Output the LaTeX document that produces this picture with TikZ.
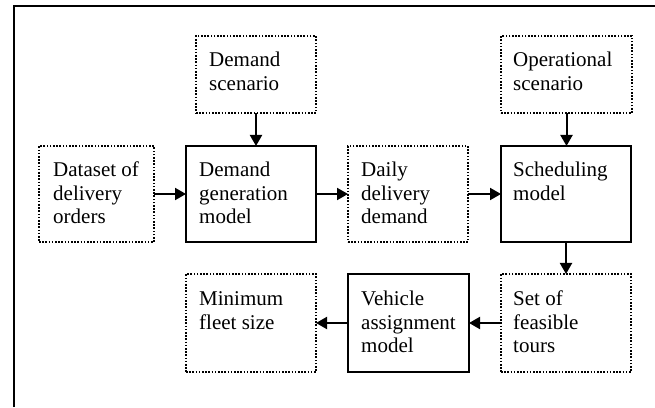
\documentclass[tikz,border=0pt]{standalone}
\usepackage{fontspec}
\setmainfont{Liberation Serif}
\usetikzlibrary{arrows.meta,calc}
\begin{document}
\begin{tikzpicture}[x=1pt,y=1pt,
  solidbox/.style={draw, line width=1.4pt, inner sep=0pt, outer sep=0pt},
  dotbox/.style={draw, line width=1.3pt, dash pattern=on 1.6pt off 1.6pt, inner sep=0pt, outer sep=0pt},
  txt/.style={anchor=north west, inner sep=0pt, align=left, font=\fontsize{21}{23.5}\selectfont},
  flow/.style={line width=2pt, -{Triangle[length=11pt,width=12pt]}},
  frame/.style={line width=2pt, line join=miter}]
\useasboundingbox (0,0) rectangle (655,407);
\draw[frame] (14,0) -- (14,401) -- (655,401);
% top row
\node[dotbox, minimum width=120pt, minimum height=77pt] (ds) at (256,332.5) {};
\node[dotbox, minimum width=131pt, minimum height=77pt] (os) at (566.5,332.5) {};
% middle row
\node[dotbox, minimum width=115pt, minimum height=96pt] (dd) at (96.5,213) {};
\node[solidbox, minimum width=130pt, minimum height=96pt] (dg) at (251,213) {};
\node[dotbox, minimum width=120pt, minimum height=96pt] (dl) at (408,213) {};
\node[solidbox, minimum width=130pt, minimum height=96pt] (sm) at (566,213) {};
% bottom row
\node[dotbox, minimum width=130pt, minimum height=98pt] (mf) at (251,84) {};
\node[solidbox, minimum width=121pt, minimum height=98pt] (va) at (408.5,84) {};
\node[dotbox, minimum width=130pt, minimum height=98pt] (sf) at (566,84) {};
% texts
\node[txt] (ds-t) at ($(ds.north west)+(13,-14)$) {\rule{0pt}{16.5pt}Demand\\scenario};
\node[txt] (os-t) at ($(os.north west)+(12,-14)$) {\rule{0pt}{16.5pt}Operational\\scenario};
\node[txt] (dd-t) at ($(dd.north west)+(14,-14)$) {\rule{0pt}{16.5pt}Dataset of\\delivery\\orders};
\node[txt] (dg-t) at ($(dg.north west)+(13,-14)$) {\rule{0pt}{16.5pt}Demand\\generation\\model};
\node[txt] (dl-t) at ($(dl.north west)+(13,-14)$) {\rule{0pt}{16.5pt}Daily\\delivery\\demand};
\node[txt] (sm-t) at ($(sm.north west)+(12,-14)$) {\rule{0pt}{16.5pt}Scheduling\\model};
\node[txt] (mf-t) at ($(mf.north west)+(13,-15)$) {\rule{0pt}{16.5pt}Minimum\\fleet size};
\node[txt] (va-t) at ($(va.north west)+(13,-15)$) {\rule{0pt}{16.5pt}Vehicle\\assignment\\model};
\node[txt] (sf-t) at ($(sf.north west)+(12,-15)$) {\rule{0pt}{16.5pt}Set of\\feasible\\tours};
% connectors
\draw[flow] (ds.south) -- (ds.south |- dg.north);
\draw[flow] (os.south) -- (os.south |- sm.north);
\draw[flow] (dd.east) -- (dg.west);
\draw[flow] (dg.east) -- (dl.west);
\draw[flow] (dl.east) -- (sm.west);
\draw[flow] (sm.south) -- (sf.north);
\draw[flow] (sf.west) -- (va.east);
\draw[flow] (va.west) -- (mf.east);
\end{tikzpicture}
\end{document}
